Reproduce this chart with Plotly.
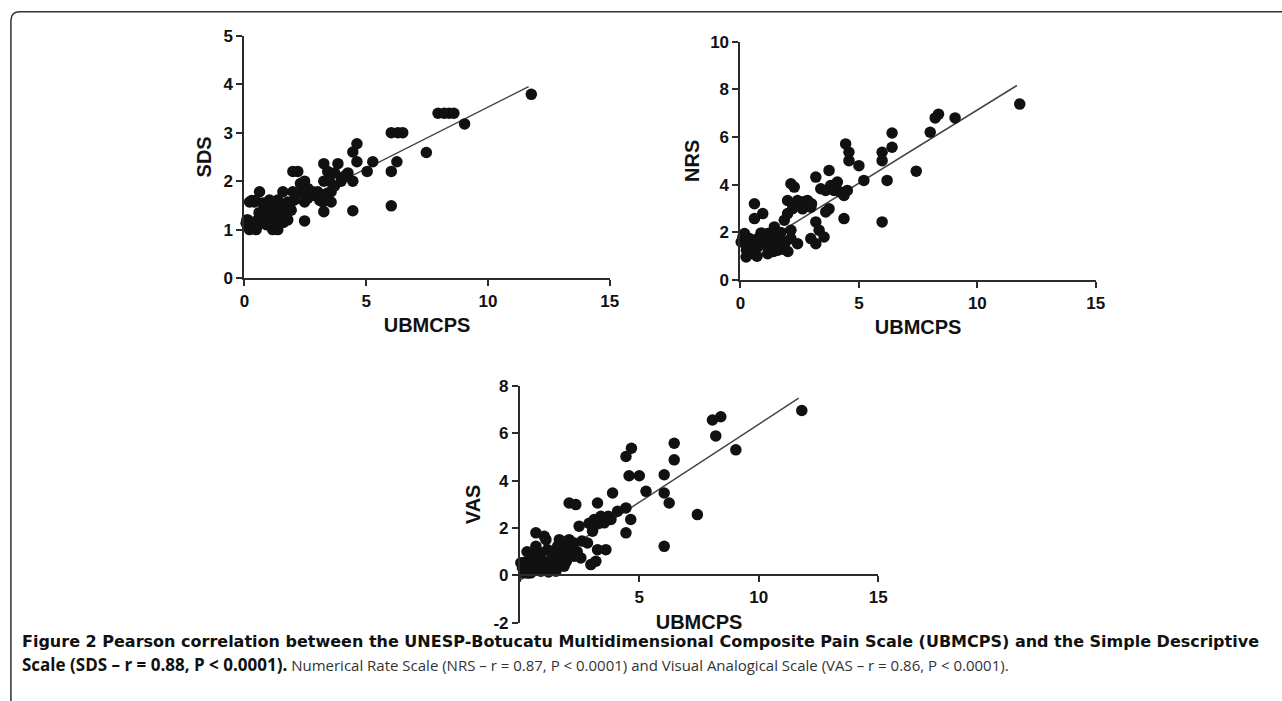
import plotly.graph_objects as go

W, H = 1282, 701

# ---------------- data ----------------
sds_x = [11.78, 9.04, 7.95, 8.2, 8.4, 8.6, 7.47, 6.03, 6.3, 6.5, 6.26, 6.03, 6.03, 5.27, 5.04,
         4.62, 4.45, 4.62, 4.45, 4.45, 4.25, 3.97, 3.84, 3.7, 3.49, 3.26, 3.26, 3.42, 3.56, 3.56,
         3.26, 3.01, 3.22, 2.81, 2.47, 2.47, 2.47, 2.47, 2.19, 1.99, 1.99, 2.05, 1.78, 1.71, 1.78,
         1.58, 1.37, 1.44, 1.37, 1.16, 1.1, 1.03, 0.89, 0.68, 0.62, 0.68, 0.48, 0.41, 0.21, 0.14,
         0.21, 0.07, 0.27, 1.23, 0.82, 1.51, 1.92, 1.1, 0.55, 1.03,
         0.3, 0.45, 0.1, 0.35, 0.5, 0.8, 0.95, 1.25, 1.3, 1.5, 1.6, 0.75, 1.85, 2.2, 2.6,
         2.9, 3.1, 2.3, 2.6, 1.2, 0.9, 0.6, 4.1, 3.7, 3.4]
sds_y = [3.79, 3.18, 3.4, 3.4, 3.4, 3.4, 2.59, 3.0, 3.0, 3.0, 2.4, 2.2, 1.49, 2.4, 2.2,
         2.77, 2.6, 2.4, 2.0, 1.39, 2.17, 2.0, 2.36, 2.17, 2.0, 2.36, 2.0, 2.2, 1.78, 1.57,
         1.37, 1.78, 1.57, 1.78, 2.0, 1.78, 1.57, 1.18, 2.2, 2.2, 1.78, 1.61, 1.57, 1.37, 1.2,
         1.78, 1.61, 1.34, 1.0, 1.0, 1.2, 1.57, 1.37, 1.34, 1.78, 1.2, 1.0, 1.57, 1.57, 1.2,
         1.0, 1.13, 1.06, 1.4, 1.47, 1.47, 1.4, 1.34, 1.2, 1.61,
         1.6, 1.6, 1.2, 1.1, 1.05, 1.25, 1.45, 1.25, 1.55, 1.3, 1.15, 1.55, 1.5, 1.75, 1.65,
         1.7, 1.6, 1.95, 1.85, 1.1, 1.1, 1.35, 2.1, 1.9, 1.75]

nrs_x = [11.79, 9.06, 8.36, 8.22, 8.01, 7.42, 6.4, 6.4, 5.98, 5.98, 6.19, 5.98, 5.21, 5.0, 4.58,
         4.58, 4.44, 4.37, 4.51, 4.37, 4.09, 3.95, 3.74, 3.81, 3.6, 3.74, 3.6, 3.39, 3.18, 3.18,
         3.32, 3.53, 3.18, 2.97, 2.97, 2.83, 2.62, 2.41, 2.27, 2.13, 1.99, 1.99, 2.13, 2.13, 2.41,
         1.85, 1.85, 1.64, 1.57, 1.36, 1.29, 1.15, 0.94, 0.94, 0.59, 0.59, 0.73, 0.59, 0.38, 0.24,
         0.17, 0.03, 0.38, 0.52, 1.5, 1.71, 1.15, 1.43, 0.87,
         0.1, 0.3, 0.45, 0.6, 0.8, 1.0, 1.2, 1.4, 1.6, 1.75, 1.9, 2.0, 1.7, 1.5, 0.25,
         2.5, 2.7, 3.0, 2.2, 3.9, 4.2, 1.1, 0.7, 1.3]
nrs_y = [7.38, 6.8, 6.96, 6.8, 6.2, 4.57, 6.17, 5.57, 5.36, 5.01, 4.18, 2.44, 4.18, 4.8, 5.01,
         5.36, 5.71, 2.58, 3.76, 3.55, 4.11, 3.76, 4.6, 3.97, 3.76, 2.99, 2.86, 3.83, 4.32, 2.44,
         2.09, 1.81, 1.53, 1.74, 3.06, 3.34, 2.99, 3.34, 3.9, 4.04, 3.34, 2.79, 2.09, 1.74, 1.53,
         2.51, 1.39, 1.95, 1.25, 1.67, 1.25, 1.95, 1.67, 2.79, 3.2, 2.58, 1.39, 1.67, 1.32, 0.97,
         1.95, 1.6, 1.74, 1.11, 1.46, 1.67, 1.11, 2.23, 1.98,
         1.8, 1.5, 1.2, 1.5, 1.8, 1.5, 1.4, 1.2, 1.5, 1.3, 1.6, 1.2, 2.0, 1.8, 1.25,
         3.1, 3.3, 3.2, 3.0, 3.9, 3.7, 1.7, 1.0, 1.9]

vas_x = [11.8, 8.41, 8.06, 8.2, 9.04, 6.46, 6.46, 6.04, 6.04, 6.25, 6.04, 7.43, 5.28, 5.0, 4.57,
         4.67, 4.44, 4.64, 4.44, 4.44, 4.09, 3.88, 3.81, 3.53, 3.39, 3.25, 3.11, 3.04, 3.6, 3.25,
         3.18, 2.97, 2.83, 2.48, 2.34, 2.06, 2.27, 2.55, 2.06, 2.0, 1.85, 1.72, 1.51, 1.37, 1.16,
         1.09, 1.02, 0.67, 0.67, 0.81, 0.53, 0.32, 0.11, 0.18, 0.46, 0.88, 1.16, 1.51, 0.25, 0.88,
         1.3, 1.72, 1.86, 0.6, 0.04, 1.58, 2.27, 1.65,
         0.2, 0.35, 0.55, 0.7, 0.95, 1.05, 1.25, 1.4, 1.6, 1.75, 1.95, 2.1, 2.4, 0.45, 0.15,
         0.9, 1.2, 2.0, 2.6, 3.3, 3.7, 2.9, 0.3, 1.45]
vas_y = [6.96, 6.7, 6.56, 5.89, 5.3, 5.58, 4.88, 4.25, 3.48, 3.06, 1.23, 2.57, 3.55, 4.21, 4.21,
         5.37, 5.02, 2.36, 1.8, 2.85, 2.71, 3.48, 2.36, 2.22, 2.5, 3.06, 2.36, 1.87, 1.09, 1.09,
         0.6, 0.46, 1.37, 2.08, 2.99, 3.06, 0.81, 0.74, 1.51, 0.95, 0.39, 1.23, 0.81, 0.39, 1.09,
         1.51, 1.65, 1.8, 1.23, 0.67, 0.32, 0.53, 0.32, 0.11, 0.11, 0.18, 0.32, 0.18, 0.46, 0.46,
         0.67, 0.67, 1.09, 0.81, 0.53, 1.23, 1.37, 1.51,
         0.3, 0.1, 0.55, 0.3, 0.6, 0.25, 0.45, 0.9, 0.5, 0.9, 0.6, 1.2, 1.0, 0.75, 0.55,
         0.95, 0.15, 1.45, 1.45, 2.2, 2.5, 2.2, 1.0, 0.3]

# regression line end points
fit_x = [0.0, 11.67]
sds_fit = [0.99, 3.95]
nrs_fit = [0.99, 8.16]
vas_fit = [-0.2, 7.48]

x_ticks = [0, 5, 10, 15]
sds_ticks = [0, 1, 2, 3, 4, 5]
nrs_ticks = [0, 2, 4, 6, 8, 10]
vas_ticks = [-2, 0, 2, 4, 6, 8]
vas_ticktext = ["-2", "0", "2", "4", "6", "8"]
vas_x_ticktext = ["", "5", "10", "15"]

caption_1 = ('<span style="font-family:DejaVu Sans;font-weight:bold;font-size:16px;color:#111">'
             "Figure 2 Pearson correlation between the UNESP-Botucatu Multidimensional "
             "Composite Pain Scale (UBMCPS) and the Simple Descriptive</span>")
caption_2 = ('<span style="font-family:Open Sans;font-weight:bold;font-size:17px;color:#111">'
             "Scale (SDS – r = 0.88, P < 0.0001).</span> Numerical Rate Scale "
             "(NRS – r = 0.87, P < 0.0001) and Visual Analogical Scale "
             "(VAS – r = 0.86, P < 0.0001).")

# ---------------- placement helpers (target pixel -> paper fraction) ----------------
SX, OX = 0.991, 3.1
SY, OY = 0.975, 8.3


def px(v):
    return ((v - OX) / SX) / W


def py(v):
    return 1 - ((v - OY) / SY) / H


AX = "#2b2b2b"
TICKFONT = dict(family="Liberation Sans, Arial, sans-serif", size=17, color="#111", weight="bold")
TITLEFONT = dict(family="Liberation Sans, Arial, sans-serif", size=20, color="#111", weight="bold")


def axis_style(**kw):
    d = dict(showline=True, linewidth=2, linecolor=AX, ticks="outside", ticklen=6, tickwidth=2,
             tickcolor=AX, showgrid=False, zeroline=False, tickfont=TICKFONT, fixedrange=True)
    d.update(kw)
    return d


fig = go.Figure()

panels = [
    ("x", "y", sds_x, sds_y, sds_fit),
    ("x2", "y2", nrs_x, nrs_y, nrs_fit),
    ("x3", "y3", vas_x, vas_y, vas_fit),
]
for xa, ya, xs, ys, fy in panels:
    fig.add_trace(go.Scatter(x=fit_x, y=fy, mode="lines", xaxis=xa, yaxis=ya,
                             line=dict(color="#444", width=1.5), showlegend=False,
                             hoverinfo="skip", cliponaxis=False))
    fig.add_trace(go.Scatter(x=xs, y=ys, mode="markers", xaxis=xa, yaxis=ya,
                             marker=dict(color="#111", size=11.5, symbol="circle",
                                         line=dict(width=0)),
                             showlegend=False, cliponaxis=False))

fig.update_layout(
    width=W, height=H,
    margin=dict(l=0, r=0, t=0, b=0),
    paper_bgcolor="white", plot_bgcolor="white",
    showlegend=False,
    xaxis=axis_style(domain=[px(243), px(609)], range=[0, 15], tickvals=x_ticks, anchor="y",
                     title=dict(text="UBMCPS", font=TITLEFONT, standoff=8)),
    yaxis=axis_style(domain=[py(278), py(35)], range=[0, 5], tickvals=sds_ticks, anchor="x",
                     title=dict(text="SDS", font=TITLEFONT, standoff=7)),
    xaxis2=axis_style(domain=[px(740), px(1096)], range=[0, 15], tickvals=x_ticks, anchor="y2",
                      title=dict(text="UBMCPS", font=TITLEFONT, standoff=8)),
    yaxis2=axis_style(domain=[py(280), py(41)], range=[0, 10], tickvals=nrs_ticks, anchor="x2",
                      title=dict(text="NRS", font=TITLEFONT, standoff=5)),
    xaxis3=axis_style(domain=[px(519), px(878)], range=[0, 15], tickvals=x_ticks,
                      ticktext=vas_x_ticktext, anchor="free", position=py(576),
                      title=dict(text="UBMCPS", font=TITLEFONT, standoff=8)),
    yaxis3=axis_style(domain=[py(623.5), py(386)], range=[-2, 8], tickvals=vas_ticks,
                      ticktext=vas_ticktext, anchor="x3",
                      title=dict(text="VAS", font=TITLEFONT, standoff=7)),
)

# figure frame (rounded box, continuing past the right and bottom edges)
fig.add_shape(type="path", xref="paper", yref="paper",
              path=(f"M {px(9)} {py(730)} L {px(9)} {py(20)} "
                    f"Q {px(9)} {py(11)} {px(18)} {py(11)} L {px(1310)} {py(11)}"),
              line=dict(color="#333", width=1.5))

CAPFONT = dict(family="Open Sans, sans-serif", size=15, color="#333")
fig.add_annotation(text=caption_1, xref="paper", yref="paper", x=px(18), y=py(642),
                   xanchor="left", yanchor="middle", showarrow=False, font=CAPFONT, align="left")
fig.add_annotation(text=caption_2, xref="paper", yref="paper", x=px(18), y=py(665),
                   xanchor="left", yanchor="middle", showarrow=False, font=CAPFONT, align="left")

fig.write_html("out.html", config={"displayModeBar": False},
               post_script="document.body.style.margin='0';document.body.style.overflow='hidden';")
